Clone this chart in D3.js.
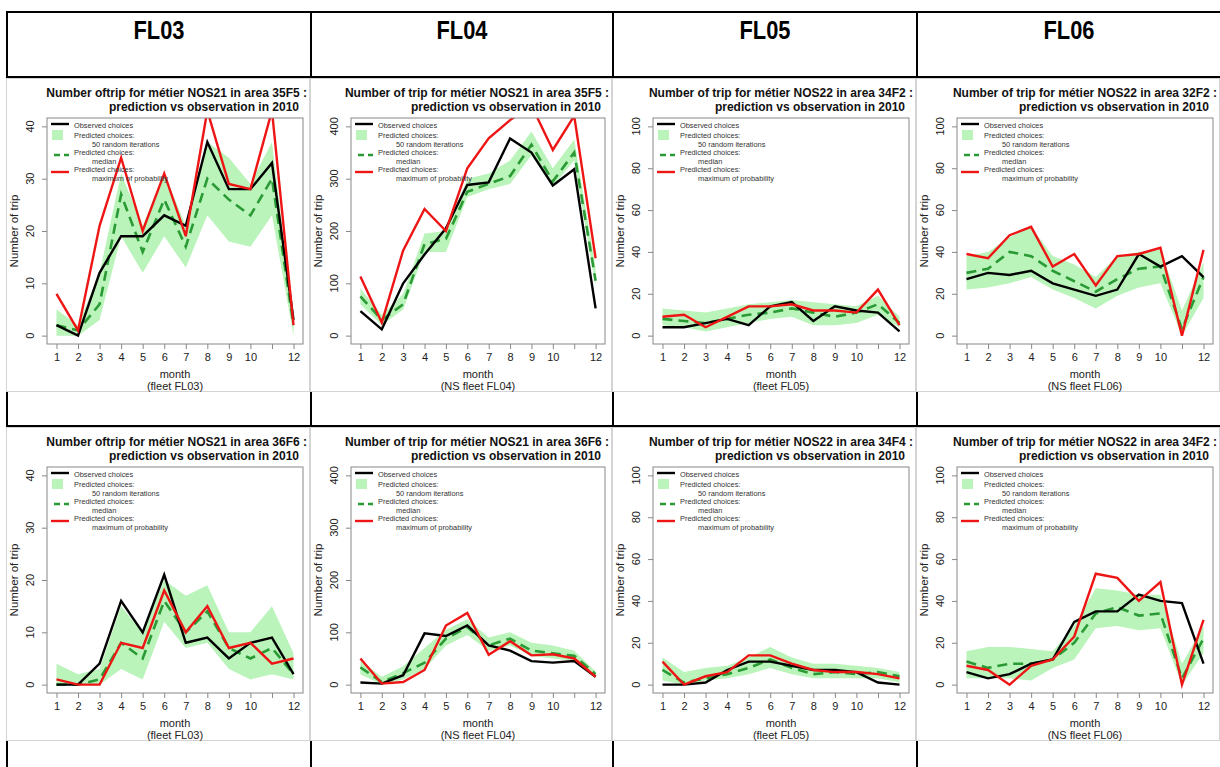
<!DOCTYPE html>
<html>
<head>
<meta charset="utf-8" />
<title>Number of trip per métier</title>
<style>
* {
    padding: 0;
    margin: 0;
}
body {
    background: #fff;
}
#chart {
    width: 1220px;
    height: 767px;
}
</style>
</head>
<body>
<div id="chart"></div>
<script src="https://cdn.jsdelivr.net/npm/d3@7"></script>
<script>
    // ---- data ----
    var months = [1, 2, 3, 4, 5, 6, 7, 8, 9, 10, 11, 12]
    var monthLabels = ["1", "2", "3", "4", "5", "6", "7", "8", "9", "10", "", "12"]
    var fleets = ["FL03", "FL04", "FL05", "FL06"]
    var fleetNotes = ["(fleet FL03)", "(NS fleet FL04)", "(fleet FL05)", "(NS fleet FL06)"]
    var titles = [
        "Number oftrip for métier NOS21 in area 35F5 :",
        "Number of trip for métier NOS21 in area 35F5 :",
        "Number of trip for métier NOS22 in area 34F2 :",
        "Number of trip for métier NOS22 in area 32F2 :",
        "Number oftrip for métier NOS21 in area 36F6 :",
        "Number of trip for métier NOS21 in area 36F6 :",
        "Number of trip for métier NOS22 in area 34F4 :",
        "Number of trip for métier NOS22 in area 34F2 :"
    ]
    var subtitle = "prediction vs observation in 2010"
    var yMax = [40, 400, 100, 100, 40, 400, 100, 100]

    var observed = [
        [2, 0, 12, 19, 19, 23, 21, 37, 28, 28, 33, 3],
        [47, 12, 100, 155, 205, 288, 293, 377, 350, 287, 318, 52],
        [4, 4, 6, 8, 5, 14, 16, 7, 14, 12, 11, 2],
        [27, 30, 29, 31, 25, 22, 19, 22, 39, 33, 38, 28],
        [0, 0, 4, 16, 10, 21, 8, 9, 5, 8, 9, 2],
        [4, 2, 18, 98, 93, 113, 75, 65, 45, 42, 45, 15],
        [0, 0, 1, 7, 11, 11, 9, 7, 7, 6, 1, 0],
        [6, 3, 5, 10, 12, 30, 35, 35, 43, 40, 39, 10]
    ]
    var maxProb = [
        [8, 1, 21, 34, 20, 31, 19, 43, 29, 28, 43, 2],
        [113, 25, 163, 242, 200, 320, 377, 412, 440, 355, 420, 148],
        [9, 10, 4, 9, 14, 14, 15, 12, 12, 11, 22, 5],
        [39, 37, 48, 52, 33, 39, 24, 38, 39, 42, 0, 41],
        [1, 0, 0, 8, 7, 18, 10, 15, 7, 8, 4, 5],
        [50, 2, 5, 28, 113, 137, 57, 83, 56, 58, 50, 15],
        [11, 0, 4, 6, 14, 14, 10, 7, 6, 6, 5, 3],
        [9, 7, 0, 9, 12, 23, 53, 51, 40, 49, 0, 31]
    ]
    var median = [
        [2, 1, 6, 27, 16, 26, 17, 30, 26, 23, 30, 2],
        [75, 30, 60, 175, 185, 275, 290, 305, 365, 295, 350, 105],
        [8, 7, 6, 8, 10, 11, 13, 11, 9, 11, 15, 6],
        [30, 32, 40, 38, 31, 26, 21, 27, 32, 33, 3, 28],
        [0, 0, 1, 8, 5, 16, 10, 14, 7, 5, 7, 2],
        [33, 5, 22, 42, 88, 110, 75, 88, 65, 60, 55, 20],
        [7, 1, 3, 5, 8, 12, 8, 5, 6, 5, 6, 4],
        [11, 8, 10, 10, 12, 20, 34, 37, 33, 34, 3, 22]
    ]
    var bandLow = [
        [0, 0, 3, 19, 12, 19, 13, 23, 18, 17, 23, 0],
        [60, 20, 50, 160, 160, 265, 280, 290, 345, 285, 335, 95],
        [5, 4, 2, 4, 6, 8, 9, 5, 5, 6, 10, 4],
        [22, 23, 25, 28, 22, 18, 13, 19, 23, 25, 0, 18],
        [0, 0, 0, 3, 1, 12, 7, 8, 3, 1, 2, 1],
        [20, 0, 10, 30, 75, 95, 65, 75, 55, 50, 45, 15],
        [2, 0, 2, 3, 5, 8, 5, 3, 3, 3, 3, 1],
        [3, 3, 3, 2, 8, 12, 27, 28, 26, 27, 0, 15]
    ]
    var bandHigh = [
        [5, 2, 12, 31, 21, 31, 21, 37, 34, 29, 37, 3],
        [90, 40, 80, 195, 200, 300, 310, 335, 390, 320, 375, 130],
        [13, 12, 11, 13, 15, 16, 17, 16, 15, 14, 19, 9],
        [38, 40, 47, 52, 38, 34, 28, 38, 40, 41, 12, 35],
        [4, 2, 3, 15, 10, 20, 17, 19, 10, 10, 15, 6],
        [45, 15, 35, 70, 105, 125, 90, 100, 80, 75, 65, 25],
        [13, 6, 8, 9, 13, 18, 13, 10, 10, 9, 8, 6],
        [16, 18, 18, 17, 16, 28, 46, 45, 43, 43, 10, 28]
    ]
    var legendLabels = [
        ["Observed choices"],
        ["Predicted choices:", "50 random iterations"],
        ["Predicted choices:", "median"],
        ["Predicted choices:", "maximum of probability"]
    ]

    // ---- layout ----
    var width = 1220, height = 767
    var colX = [7, 311, 613, 917, 1221]
    var lineY = [12, 77, 426]
    var rowTop = [78, 427]
    var panelH = 313
    var font = "'Liberation Sans', Arial, Helvetica, sans-serif"
    var green = "#2a9a35", band = "#baf4ba", red = "#ee1515"

    var svg = d3.select("#chart").append("svg")
        .attr("width", width).attr("height", height)
        .style("font-family", font)

    // table grid
    var grid = svg.append("g").attr("stroke", "#000").attr("stroke-width", 2)
    lineY.forEach(function(y) {
        grid.append("line").attr("x1", colX[0] - 1).attr("x2", width).attr("y1", y).attr("y2", y)
    })
    colX.slice(0, 4).forEach(function(x) {
        grid.append("line").attr("x1", x).attr("x2", x).attr("y1", lineY[0]).attr("y2", height)
    })

    // header
    fleets.forEach(function(f, i) {
        svg.append("text")
            .attr("x", (colX[i] + colX[i + 1]) / 2)
            .attr("y", 39)
            .attr("text-anchor", "middle")
            .attr("font-family", "'Liberation Sans Narrow', 'Arial Narrow', " + font)
            .attr("font-weight", "bold")
            .attr("font-size", 25)
            .attr("textLength", 51)
            .attr("lengthAdjust", "spacingAndGlyphs")
            .text(f)
    })

    titles.forEach(function(t, i) { drawPanel(i) })

    function drawPanel(i) {
        var col = i % 4, row = Math.floor(i / 4)
        var w = colX[col + 1] - colX[col]
        var g = svg.append("g").attr("transform", "translate(" + (colX[col] - 1) + "," + rowTop[row] + ")")

        g.append("rect").attr("x", 0.5).attr("y", 0.5)
            .attr("width", w - 1).attr("height", panelH)
            .attr("fill", "#fff").attr("stroke", "#d4d4d4")

        var m = { left: 41, right: w - 7, top: 40, bottom: 266 }
        var ymax = yMax[i]
        var x = d3.scaleLinear().domain([1 - 0.44, 12 + 0.44]).range([m.left, m.right])
        var y = d3.scaleLinear().domain([-0.04 * ymax, 1.04 * ymax]).range([m.bottom, m.top])

        // title
        g.append("text").attr("x", w - 3).attr("y", 19).attr("text-anchor", "end")
            .attr("font-weight", "bold").attr("font-size", 12).attr("fill", "#111")
            .text(titles[i])
        g.append("text").attr("x", w - 11).attr("y", 33).attr("text-anchor", "end")
            .attr("font-weight", "bold").attr("font-size", 12).attr("fill", "#111")
            .text(subtitle)

        var clipId = "clip" + i
        g.append("clipPath").attr("id", clipId).append("rect")
            .attr("x", m.left).attr("y", m.top)
            .attr("width", m.right - m.left).attr("height", m.bottom - m.top)

        var plot = g.append("g").attr("clip-path", "url(#" + clipId + ")")

        var area = d3.area()
            .x(function(d, k) { return x(months[k]) })
            .y0(function(d, k) { return y(bandLow[i][k]) })
            .y1(function(d, k) { return y(bandHigh[i][k]) })
        var line = d3.line()
            .x(function(d, k) { return x(months[k]) })
            .y(function(d) { return y(d) })

        plot.append("path").attr("d", area(months)).attr("fill", band)
        plot.append("path").attr("d", line(median[i])).attr("fill", "none")
            .attr("stroke", green).attr("stroke-width", 2.6).attr("stroke-dasharray", "10,6")
        plot.append("path").attr("d", line(observed[i])).attr("fill", "none")
            .attr("stroke", "#000").attr("stroke-width", 2.4)
        plot.append("path").attr("d", line(maxProb[i])).attr("fill", "none")
            .attr("stroke", red).attr("stroke-width", 2.4)

        // box
        g.append("rect").attr("x", m.left).attr("y", m.top)
            .attr("width", m.right - m.left).attr("height", m.bottom - m.top)
            .attr("fill", "none").attr("stroke", "#888")

        // x axis
        var xAxis = d3.axisBottom(x).tickValues(months).tickSize(5).tickPadding(4)
            .tickFormat(function(d, k) { return monthLabels[k] })
        var gx = g.append("g").attr("transform", "translate(0," + m.bottom + ")").call(xAxis)
        gx.select(".domain").remove()
        gx.selectAll("line").attr("stroke", "#888")
        gx.selectAll("text").attr("font-size", 11).attr("font-family", font).attr("fill", "#222")

        // y axis
        var yAxis = d3.axisLeft(y).ticks(5).tickSize(5).tickFormat("")
        var gy = g.append("g").attr("transform", "translate(" + m.left + ",0)").call(yAxis)
        gy.select(".domain").remove()
        gy.selectAll("line").attr("stroke", "#888")
        y.ticks(5).forEach(function(t) {
            g.append("text")
                .attr("transform", "translate(24," + y(t) + ") rotate(-90)")
                .attr("dy", "0.35em").attr("text-anchor", "middle")
                .attr("font-size", 11).attr("fill", "#222")
                .text(t)
        })

        // axis titles
        g.append("text")
            .attr("transform", "translate(8," + ((m.top + m.bottom) / 2) + ") rotate(-90)")
            .attr("dy", "0.35em").attr("text-anchor", "middle")
            .attr("font-size", 11.5).attr("fill", "#222")
            .text("Number of trip")
        g.append("text").attr("x", (m.left + m.right) / 2).attr("y", 299.5)
            .attr("text-anchor", "middle").attr("font-size", 11).attr("fill", "#222")
            .text("month")
        g.append("text").attr("x", (m.left + m.right) / 2).attr("y", 311.5)
            .attr("text-anchor", "middle").attr("font-size", 11).attr("fill", "#222")
            .text(fleetNotes[col])

        // legend
        var lg = g.append("g").attr("font-size", 7.4).attr("fill", "#333")
        lg.append("line").attr("x1", 45).attr("x2", 63).attr("y1", 46).attr("y2", 46)
            .attr("stroke", "#000").attr("stroke-width", 2.4)
        lg.append("rect").attr("x", 46).attr("y", 52).attr("width", 11).attr("height", 10)
            .attr("fill", band)
        lg.append("line").attr("x1", 45).attr("x2", 63).attr("y1", 77).attr("y2", 77)
            .attr("stroke", green).attr("stroke-width", 2.6).attr("stroke-dasharray", "6,4")
            .attr("stroke-dashoffset", -3)
        lg.append("line").attr("x1", 45).attr("x2", 63).attr("y1", 94).attr("y2", 94)
            .attr("stroke", red).attr("stroke-width", 2.4)
        var firstY = [50, 59.5, 77, 94]
        legendLabels.forEach(function(lab, k) {
            lg.append("text").attr("x", 68).attr("y", firstY[k]).text(lab[0])
            if (lab[1]) lg.append("text").attr("x", 86).attr("y", firstY[k] + (k == 1 ? 9 : 8.5)).text(lab[1])
        })
    }
</script>
</body>
</html>
